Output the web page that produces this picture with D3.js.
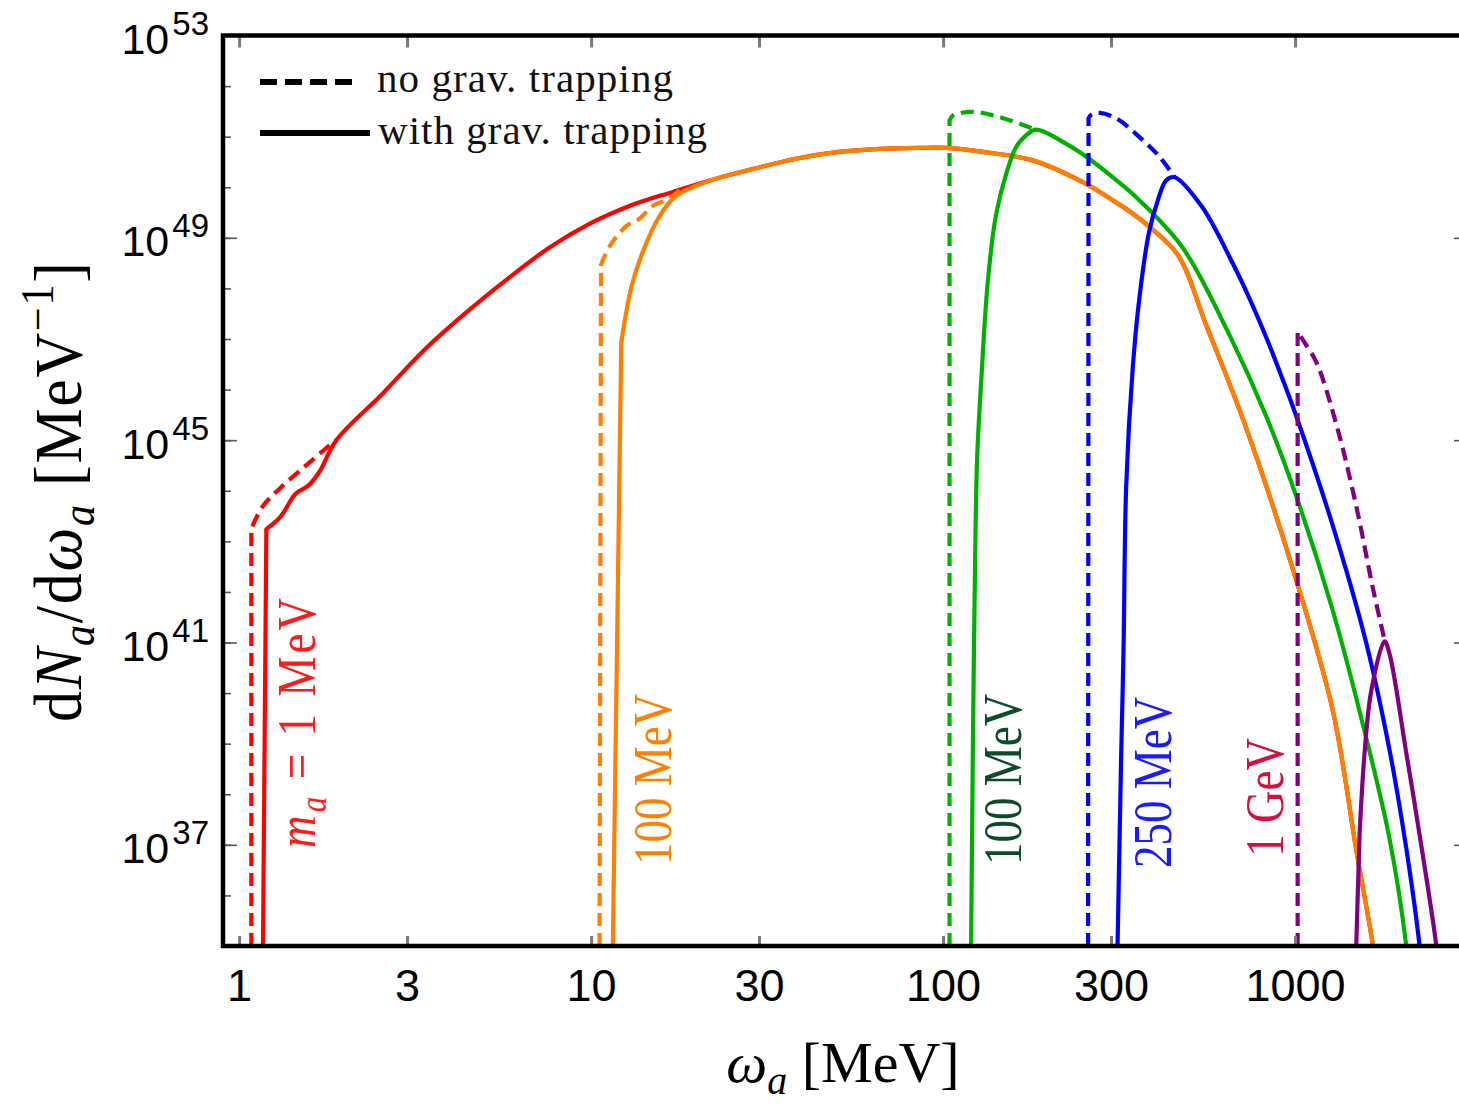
<!DOCTYPE html>
<html>
<head>
<meta charset="utf-8">
<script src="https://cdn.jsdelivr.net/npm/d3@7"></script>
<style>
  body { margin: 0; background: #fff; }
  svg { display: block; }
</style>
</head>
<body>
<svg id="chart" width="1459" height="1104"></svg>
<script>
// Axion spectra dN_a/dω_a [MeV^-1] versus axion energy ω_a [MeV].
// Each series: [ω_a in MeV, dN_a/dω_a in MeV^-1].

const xTickValues = [1, 3, 10, 30, 100, 300, 1000];
const yTickExponents = [35, 36, 37, 38, 39, 40, 41, 42, 43, 44, 45, 46, 47, 48, 49, 50, 51, 52, 53];
const yLabelExponents = [37, 41, 45, 49, 53];

// m_a = 1 MeV, low-energy edge
const red1MeVNoTrap = [
  [1.083, 1e35], [1.083, 1.78e43], [1.169, 5.0e43], [1.303, 1.1e44],
  [1.518, 2.8e44], [1.808, 7.9e44], [1.889, 1.0e45]
];
const red1MeVTrap = [
  [1.169, 1e35], [1.195, 1.74e43], [1.312, 3.09e43], [1.447, 8.7e43],
  [1.579, 1.29e44], [1.693, 2.4e44], [1.889, 1.0e45]
];
// spectrum shared by the light masses above threshold
const lightMassSpectrum = [
  [2.556, 8.3e45], [3.352, 6.0e46], [4.395, 3.24e47], [5.767, 1.51e48],
  [7.561, 6.2e48], [9.916, 1.9e49], [13.01, 4.4e49], [17.06, 8.1e49],
  [22.37, 1.44e50], [29.34, 2.37e50], [38.48, 3.7e50], [50.48, 5.0e50],
  [66.19, 5.75e50], [85.0, 6.0e50], [102.2, 6.0e50], [129.7, 5.0e50],
  [179.6, 3.4e50], [249.6, 1.26e50], [303.7, 5.5e49], [346.1, 3.0e49],
  [377.9, 1.86e49], [464.5, 4.6e48], [559.4, 1.86e47], [726.5, 1.74e45],
  [1008, 1.7e42], [1281, 4.4e39], [1492, 8.0e36], [1663, 1.05e35], [1700, 3e34]
];
// orange, low-energy edge
const orangeNoTrap = [
  [10.57, 1e35], [10.67, 2.9e48], [11.29, 6.8e48], [12.59, 1.7e49],
  [13.73, 2.4e49], [14.98, 4.3e49], [16.71, 6.0e49], [17.84, 8.7e49]
];
const orangeTrapLow = [
  [11.53, 1e35], [12.18, 8.3e46], [13.01, 1.05e48], [14.04, 5.4e48],
  [15.65, 2.7e49], [17.46, 6.8e49]
];
// green, m_a = 100 MeV
const greenNoTrap = [
  [104.3, 1e35], [104.3, 2.1e51], [106.5, 2.6e51], [111.4, 2.9e51],
  [121.5, 3.1e51], [144.7, 2.45e51], [179.9, 1.45e51], [184.0, 1.38e51]
];
const greenTrap = [
  [120.1, 1e35], [121.5, 7.4e38], [122.9, 6.9e41], [124.9, 4.0e44],
  [128.4, 1.55e46], [134.1, 1.45e48], [141.6, 3.0e49], [151.2, 1.86e50],
  [161.4, 6.3e50], [172.4, 1.07e51], [184.0, 1.38e51], [223.9, 7.2e50],
  [255.3, 4.0e50], [310.5, 1.38e50], [361.5, 5.5e49], [480.1, 6.3e48],
  [651.3, 1.19e47], [828.3, 2.95e45], [1008, 7.8e43], [1281, 4.2e41],
  [1593, 1.29e39], [1856, 1.3e37], [2070, 1e35], [2100, 3e34]
];
// blue, m_a = 250 MeV
const blueNoTrap = [
  [258.2, 1e35], [259.0, 2.3e51], [264.0, 2.75e51], [278.4, 2.95e51],
  [310.5, 2.3e51], [361.5, 9.8e50], [412.1, 4.0e50], [454.8, 1.58e50]
];
const blueTrap = [
  [313.1, 1e35], [320.8, 7.4e38], [325.6, 7.1e40], [331.4, 1.29e44],
  [346.1, 2.9e46], [361.5, 6.8e47], [384.7, 1.29e49], [407.5, 5.5e49],
  [430.6, 1.38e50], [454.8, 1.58e50], [544.1, 4.1e49], [665.6, 3.1e48],
  [742.4, 6.3e47], [828.3, 1.07e47], [923.4, 1.55e46], [1017, 2.5e45],
  [1281, 2.0e43], [1593, 9.8e40], [1856, 7.4e38], [2070, 8.5e36],
  [2258, 1e35], [2290, 3e34]
];
// purple, m_a = 1 GeV
const purpleNoTrap = [
  [1017, 1e35], [1017, 1.4e47], [1060, 8.9e46], [1149, 3.5e46],
  [1309, 2.1e45], [1492, 5.0e43], [1663, 1.2e42], [1796, 1.12e41]
];
const purpleTrap = [
  [1492, 1e35], [1525, 1.6e37], [1576, 6.6e38], [1646, 1.1e40],
  [1796, 1.05e41], [1856, 5.9e40], [2070, 6.6e38], [2307, 6.2e36],
  [2519, 1e35], [2550, 3e34]
];

const massLabelTexts = ["100 MeV", "100 MeV", "250 MeV", "1 GeV"];
const massLabelColors = ["#ff8000", "#0d4a28", "#1a1aff", "#d6103e"];

const svg = d3.select("#chart");

const x = d3.scaleLog().domain([0.9, 3000]).range([223, 1463]);
const y = d3.scaleLog().domain([1e35, 1e53]).range([946, 35.5]);

const [x0, x1] = x.range();
const [yb, yt] = y.range();

svg.append("defs").append("clipPath").attr("id", "plotClip")
  .append("rect").attr("x", x0).attr("y", yt).attr("width", x1 - x0).attr("height", yb - yt);

// The threshold edge (first segment) is straight; the rest is a smooth spline.
const edgeLine = d3.line().x(d => x(d[0])).y(d => y(d[1]));
const smoothLine = d3.line().x(d => x(d[0])).y(d => y(d[1]))
  .curve(d3.curveCatmullRom.alpha(0.5));
function spectrumPath(pts) {
  return edgeLine(pts.slice(0, 2)) + smoothLine(pts.slice(1)).replace(/^M/, "L");
}

const orangeTrap = orangeTrapLow.concat(
  lightMassSpectrum.filter(d => d[0] > orangeTrapLow[orangeTrapLow.length - 1][0]));

const series = [
  { data: red1MeVNoTrap, color: "#ff0000", dashed: true },
  { data: red1MeVTrap.concat(lightMassSpectrum), color: "#ff0000", dashed: false },
  { data: orangeNoTrap, color: "#ff8000", dashed: true },
  { data: orangeTrap, color: "#ff8000", dashed: false },
  { data: greenNoTrap, color: "#00b000", dashed: true },
  { data: greenTrap, color: "#00b000", dashed: false },
  { data: blueNoTrap, color: "#0000ff", dashed: true },
  { data: blueTrap, color: "#0000ff", dashed: false },
  { data: purpleNoTrap, color: "#800080", dashed: true },
  { data: purpleTrap, color: "#800080", dashed: false }
];

const curves = svg.append("g").attr("clip-path", "url(#plotClip)");
curves.selectAll("path").data(series).join("path")
  .attr("d", d => spectrumPath(d.data))
  .attr("fill", "none")
  .attr("stroke", d => d.color)
  .attr("stroke-width", 4.2)
  .attr("stroke-linejoin", "round")
  .attr("stroke-dasharray", d => d.dashed ? "13,7" : null);

// ---- axes ----
const tickGray = "#7a7a7a";
const sans = "'Liberation Sans', Arial, sans-serif";
const serif = "'Liberation Serif', 'Times New Roman', serif";

function styleAxis(g, color, width) {
  g.select(".domain").remove();
  g.selectAll(".tick line").attr("stroke", color).attr("stroke-width", width);
}

const gBottom = svg.append("g").attr("transform", `translate(0,${yb})`)
  .call(d3.axisBottom(x).tickValues(xTickValues).tickSizeInner(-10).tickSizeOuter(0)
    .tickFormat(d3.format("d")));
styleAxis(gBottom, tickGray, 3);
gBottom.selectAll(".tick text")
  .attr("y", 55).attr("dy", 0)
  .attr("fill", "#000").attr("font-family", sans).attr("font-size", 45);

const gTop = svg.append("g").attr("transform", `translate(0,${yt})`)
  .call(d3.axisTop(x).tickValues(xTickValues).tickSizeInner(-12).tickSizeOuter(0).tickFormat(""));
styleAxis(gTop, tickGray, 3);

const decadeValues = yTickExponents.map(e => Math.pow(10, e));
const labelValues = yLabelExponents.map(e => Math.pow(10, e));

const gLeftMinor = svg.append("g").attr("transform", `translate(${x0},0)`)
  .call(d3.axisLeft(y).tickValues(decadeValues).tickSizeInner(-8).tickSizeOuter(0).tickFormat(""));
styleAxis(gLeftMinor, "#555", 1.6);

const gLeft = svg.append("g").attr("transform", `translate(${x0},0)`)
  .call(d3.axisLeft(y).tickValues(labelValues).tickSizeInner(-14).tickSizeOuter(0).tickFormat(""));
styleAxis(gLeft, "#555", 1.6);
gLeft.selectAll(".tick").each(function(d) {
  const t = d3.select(this).append("text")
    .attr("x", -14).attr("y", 18)
    .attr("text-anchor", "end")
    .attr("fill", "#000").attr("font-family", sans).attr("font-size", 43);
  t.append("tspan").text("10");
  t.append("tspan").attr("dx", 3).attr("dy", -19).attr("font-size", 33)
    .text(Math.round(Math.log10(d)));
});

const gRight = svg.append("g").attr("transform", `translate(${x1},0)`)
  .call(d3.axisRight(y).tickValues(labelValues).tickSizeInner(-9).tickSizeOuter(0).tickFormat(""));
styleAxis(gRight, "#555", 1.6);

// frame
svg.append("path")
  .attr("d", `M${x1},${yt}H${x0}V${yb}H${x1}V${yt}`)
  .attr("fill", "none").attr("stroke", "#000").attr("stroke-width", 4.5)
  .attr("stroke-linecap", "square");

// ---- axis titles ----
const xTitle = svg.append("text")
  .attr("x", 843).attr("y", 1082)
  .attr("text-anchor", "middle")
  .attr("font-family", serif).attr("font-size", 58).attr("fill", "#000");
xTitle.append("tspan").attr("font-style", "italic").text("ω");
xTitle.append("tspan").attr("font-style", "italic").attr("font-size", 40).attr("dy", 12).text("a");
xTitle.append("tspan").attr("dy", -12).text(" [MeV]");

const yTitle = svg.append("text")
  .attr("transform", "translate(81,492) rotate(-90) scale(1,1.08)")
  .attr("text-anchor", "middle")
  .attr("font-family", serif).attr("font-size", 62).attr("fill", "#000")
  .attr("textLength", 460).attr("lengthAdjust", "spacing");
yTitle.append("tspan").text("d");
yTitle.append("tspan").attr("font-style", "italic").text("N");
yTitle.append("tspan").attr("font-style", "italic").attr("font-size", 42).attr("dy", 12).text("a");
yTitle.append("tspan").attr("dy", -12).text("/d");
yTitle.append("tspan").attr("font-style", "italic").text("ω");
yTitle.append("tspan").attr("font-style", "italic").attr("font-size", 42).attr("dy", 12).text("a");
yTitle.append("tspan").attr("dy", -12).text(" [MeV");
yTitle.append("tspan").attr("font-size", 42).attr("dy", -26).text("−1");
yTitle.append("tspan").attr("dy", 26).text("]");

// ---- legend ----
const legend = svg.append("g");
legend.append("line").attr("x1", 260).attr("x2", 358).attr("y1", 82).attr("y2", 82)
  .attr("stroke", "#000").attr("stroke-width", 6).attr("stroke-dasharray", "17,8");
legend.append("line").attr("x1", 260).attr("x2", 370).attr("y1", 133).attr("y2", 133)
  .attr("stroke", "#000").attr("stroke-width", 6);
legend.append("text").attr("x", 377).attr("y", 92)
  .attr("font-family", serif).attr("font-size", 41).attr("fill", "#111")
  .attr("textLength", 296).attr("lengthAdjust", "spacing")
  .text("no grav. trapping");
legend.append("text").attr("x", 378).attr("y", 144)
  .attr("font-family", serif).attr("font-size", 41).attr("fill", "#111")
  .attr("textLength", 329).attr("lengthAdjust", "spacing")
  .text("with grav. trapping");

// ---- mass labels, rotated, placed in data units (baseline ω, start value) ----
const redLabel = svg.append("text")
  .attr("transform", `translate(${x(1.21) + 47},${y(8.7e36)}) rotate(-90) scale(1,1.2)`)
  .attr("font-family", serif).attr("font-size", 45).attr("fill", "#ff1a1a")
  .attr("textLength", 250).attr("lengthAdjust", "spacing");
redLabel.append("tspan").attr("font-style", "italic").text("m");
redLabel.append("tspan").attr("font-style", "italic").attr("font-size", 31).attr("dy", 9).text("a");
redLabel.append("tspan").attr("dy", -9).text(" = 1 MeV");

const labelAnchors = [[16.9, 4.0e36], [167, 4.0e36], [443, 3.5e36], [922, 5.8e36]];
svg.append("g").selectAll("text").data(massLabelTexts).join("text")
  .attr("transform", (d, i) =>
    `translate(${x(labelAnchors[i][0])},${y(labelAnchors[i][1])}) rotate(-90) scale(1,1.2)`)
  .attr("font-family", serif).attr("font-size", 45)
  .attr("fill", (d, i) => massLabelColors[i])
  .text(d => d);
</script>
</body>
</html>
